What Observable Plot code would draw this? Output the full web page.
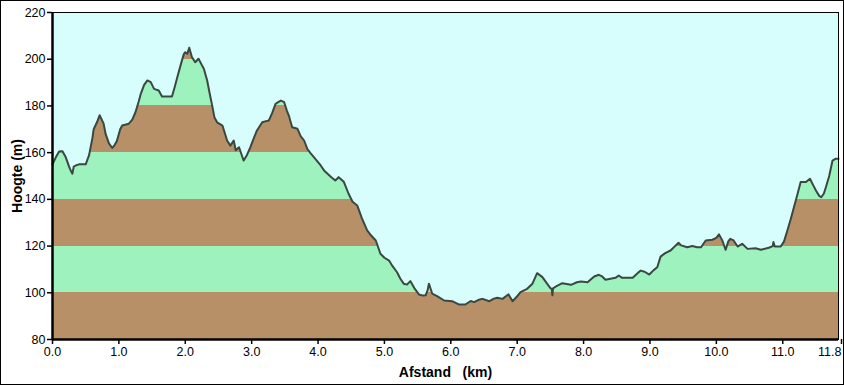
<!DOCTYPE html>
<html>
<head>
<meta charset="utf-8">
<script src="https://cdn.jsdelivr.net/npm/d3@7"></script>
<script src="https://cdn.jsdelivr.net/npm/@observablehq/plot@0.6"></script>
<style>
  body { margin: 0; background: white; }
  svg text { white-space: pre; }
</style>
</head>
<body>
<div id="chart"></div>
<script>
const distanceKm = [
  0.00,0.05,0.10,0.15,0.20,0.25,0.28,0.30,0.32,0.35,0.40,0.50,0.55,0.60,0.62,0.67,0.71,0.77,0.80,0.85,
  0.90,0.93,0.97,1.02,1.05,1.15,1.20,1.25,1.30,1.33,1.38,1.43,1.48,1.53,1.60,1.65,1.80,1.84,1.88,1.95,
  1.98,2.00,2.03,2.06,2.10,2.15,2.20,2.24,2.28,2.33,2.37,2.41,2.44,2.48,2.56,2.60,2.63,2.68,2.73,2.76,
  2.81,2.85,2.88,2.93,2.98,3.03,3.08,3.16,3.22,3.26,3.31,3.36,3.40,3.44,3.49,3.53,3.56,3.61,3.69,3.74,
  3.79,3.84,3.88,3.94,4.04,4.09,4.20,4.26,4.31,4.35,4.39,4.46,4.52,4.59,4.66,4.74,4.80,4.87,4.94,5.00,
  5.07,5.12,5.19,5.24,5.29,5.34,5.39,5.45,5.52,5.58,5.62,5.65,5.67,5.72,5.80,5.90,6.02,6.12,6.22,6.30,
  6.35,6.42,6.48,6.58,6.65,6.70,6.78,6.83,6.87,6.93,7.00,7.05,7.15,7.23,7.30,7.38,7.45,7.50,7.52,7.53,
  7.54,7.60,7.68,7.81,7.90,7.96,8.06,8.16,8.23,8.28,8.33,8.48,8.53,8.58,8.74,8.80,8.86,8.92,8.99,9.06,
  9.11,9.16,9.23,9.31,9.39,9.43,9.47,9.56,9.64,9.71,9.77,9.84,9.94,10.00,10.04,10.09,10.14,10.18,10.21,10.26,
  10.32,10.39,10.47,10.59,10.67,10.79,10.85,10.86,10.88,10.97,11.02,11.07,11.12,11.17,11.22,11.27,11.35,11.41,11.46,11.50,
  11.55,11.58,11.62,11.65,11.70,11.75,11.80,11.84
];
const elevationM = [
  155,158,160.5,160.6,158,154,152,151,154,154.5,155,155,158.8,166,170,173,176,172.4,168,164,
  162,163,165,170,171.6,172.4,174,177.3,182,185.2,189,190.9,190.2,187.3,186.6,184,184,188,192.3,199.5,
  202.3,203,202.3,204.9,200.9,198.7,200.2,198,195.9,190.9,185,179.5,175,173,171.6,168,165.2,163,165.2,161,
  162.3,159,156.6,159,162.3,166,169.5,173,173.5,173.8,177,180.9,181.6,182.3,181.6,178,175.9,170.9,170.2,167,
  165.2,161.5,160,158,154.5,152.4,149.5,148.1,149.5,148.5,147.4,142.4,139,137.4,132,126.7,124.5,122.4,116.7,115,
  113.8,111.5,108.8,106,103.9,103.5,105,102,99.3,98.8,98.9,101,103.9,99.6,98.5,96.7,96.4,95,95,96.5,
  96,97,97.4,96.4,97.5,97.9,97.4,98.5,99.3,96.4,98.5,100.3,101.7,103.9,108.4,106.7,103.9,102,101.7,98.9,
  101.9,103,104.1,103.4,104.5,104.8,104.5,107,107.7,107,105.6,106.4,107.4,106.4,106.4,108,109.5,109,107.8,109.8,
  110.9,115.5,117,118.1,120.3,121.4,120.3,119.5,120,119.5,119.5,122.4,122.7,123.5,125,122.4,118.4,122,123.1,122.4,
  119.8,121,118.8,119.1,118.4,119.3,120,121.7,119.8,119.8,122,126.7,131.5,136.7,142,147.4,147.4,148.8,146,143.8,
  141.5,140.9,142.5,145.2,150,156.6,157.4,157.4
];
const yTicks = [80, 100, 120, 140, 160, 180, 200, 220];
const xTicks = [0, 1, 2, 3, 4, 5, 6, 7, 8, 9, 10, 11];
const xEnd = 11.84;
const bandEdges = [80, 100, 120, 140, 160, 180, 200, 220];
const bandColors = ["#b89068", "#9ef2bd"];
const skyColor = "#d8fdfd";
const lineColor = "#3a4842";

const profile = distanceKm.map((d, i) => ({km: d, h: elevationM[i]}));

const chart = Plot.plot({
  width: 844,
  height: 385,
  marginLeft: 52,
  marginRight: 6,
  marginTop: 12,
  marginBottom: 46,
  style: {fontFamily: "'Liberation Sans', Arial, sans-serif", fontSize: "12px", color: "black", background: "white"},
  x: {domain: [0, xEnd]},
  y: {domain: [80, 220]},
  marks: [
    Plot.frame({fill: skyColor, stroke: "none"}),
    Plot.areaY(profile, {x: "km", y1: 80, y2: "h", fill: "url(#bands)"}),
    Plot.line(profile, {x: "km", y: "h", stroke: lineColor, strokeWidth: 2, strokeLinejoin: "round"}),
    Plot.frame({stroke: "black", strokeWidth: 1}),
    Plot.ruleX([0], {stroke: "black", strokeWidth: 2.5}),
    Plot.ruleY([80], {stroke: "black", strokeWidth: 2.5}),
    Plot.axisY({ticks: yTicks, tickSize: 5, tickPadding: 2, tickFormat: d => String(d), label: null, stroke: "black", strokeWidth: 1.5, fontSize: 12.5}),
    Plot.axisX({ticks: xTicks, tickSize: 5, tickPadding: 3, tickFormat: d => d.toFixed(1), label: null, stroke: "black", strokeWidth: 1.5, fontSize: 12.5}),
    Plot.axisX({ticks: [xEnd], tickSize: 5, tickPadding: 3, tickFormat: d => d.toFixed(1), label: null, stroke: "black", strokeWidth: 1.5, textAnchor: "end", dx: 3, fontSize: 12.5}),
    Plot.text(["Hoogte (m)"], {frameAnchor: "left", textAnchor: "middle", lineAnchor: "middle", rotate: -90, dx: -35, fontWeight: "bold", fontSize: 14}),
    Plot.text(["Afstand   (km)"], {frameAnchor: "bottom", textAnchor: "middle", lineAnchor: "middle", dy: 33, fontWeight: "bold", fontSize: 14})
  ]
});

// banded fill gradient built from the y scale
const ys = chart.scale("y");
const yScale = d3.scaleLinear().domain(ys.domain).range(ys.range);
const svg = d3.select(chart.tagName.toLowerCase() === "svg" ? chart : chart.querySelector("svg"));
const grad = svg.insert("defs", ":first-child").append("linearGradient")
  .attr("id", "bands")
  .attr("gradientUnits", "userSpaceOnUse")
  .attr("x1", 0).attr("x2", 0)
  .attr("y1", yScale(bandEdges[0]))
  .attr("y2", yScale(bandEdges[bandEdges.length - 1]));
const span = bandEdges[bandEdges.length - 1] - bandEdges[0];
for (let i = 0; i < bandEdges.length - 1; i++) {
  const c = bandColors[i % 2];
  grad.append("stop").attr("offset", (bandEdges[i] - bandEdges[0]) / span).attr("stop-color", c);
  grad.append("stop").attr("offset", (bandEdges[i + 1] - bandEdges[0]) / span).attr("stop-color", c);
}
// outer border of the picture
svg.append("rect").attr("x", 0.5).attr("y", 0.5).attr("width", 843).attr("height", 384)
  .attr("fill", "none").attr("stroke", "black");

document.getElementById("chart").appendChild(chart);
</script>
</body>
</html>
